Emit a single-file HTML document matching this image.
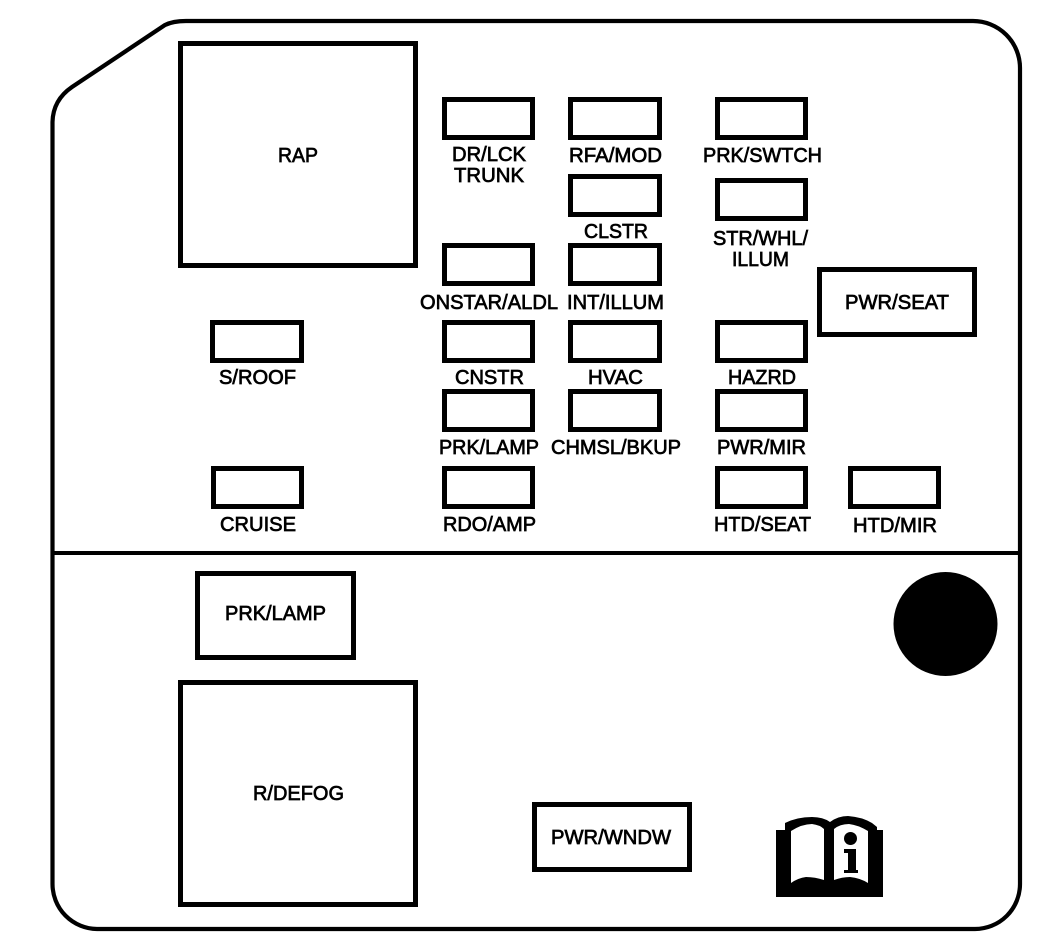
<!DOCTYPE html>
<html>
<head>
<meta charset="utf-8">
<style>
html,body{margin:0;padding:0;background:#fff}
svg{display:block}
text{font-family:"Liberation Sans",Arial,sans-serif;font-size:20px;fill:#000;stroke:#000;stroke-width:.7px}
.b{fill:none;stroke:#000;stroke-width:5;shape-rendering:crispEdges}
</style>
</head>
<body>
<svg width="1056" height="946" viewBox="0 0 1056 946" xmlns="http://www.w3.org/2000/svg">
<rect width="1056" height="946" fill="#fff"/>
<path d="M52.500 122 Q53 100 72 87 L165 25 Q173 21 186 21 L973 21 A47 47 0 0 1 1020 68 L1020 884 A45 45 0 0 1 975 929 L97 929 A45 45 0 0 1 52.500 884 Z" fill="none" stroke="#000" stroke-width="4.200"/>
<rect x="52" y="551" width="968" height="4" fill="#000"/>

<rect class="b" x="180.500" y="43.500" width="235" height="222"/>
<rect class="b" x="444.500" y="99.500" width="88" height="38"/>
<rect class="b" x="570.500" y="99.500" width="89" height="38"/>
<rect class="b" x="717.500" y="99.500" width="88" height="38"/>
<rect class="b" x="570.500" y="176.500" width="89" height="38"/>
<rect class="b" x="717.500" y="180.500" width="88" height="38"/>
<rect class="b" x="444.500" y="245.500" width="88" height="38"/>
<rect class="b" x="570.500" y="245.500" width="89" height="38"/>
<rect class="b" x="819.500" y="269.500" width="155" height="65"/>
<rect class="b" x="212.500" y="322.500" width="89" height="38"/>
<rect class="b" x="444.500" y="322.500" width="88" height="38"/>
<rect class="b" x="570.500" y="322.500" width="89" height="38"/>
<rect class="b" x="717.500" y="322.500" width="88" height="38"/>
<rect class="b" x="444.500" y="391.500" width="88" height="38"/>
<rect class="b" x="570.500" y="391.500" width="89" height="38"/>
<rect class="b" x="717.500" y="391.500" width="88" height="38"/>
<rect class="b" x="213.500" y="468.500" width="88" height="38"/>
<rect class="b" x="444.500" y="468.500" width="88" height="38"/>
<rect class="b" x="717.500" y="468.500" width="88" height="38"/>
<rect class="b" x="850.500" y="468.500" width="88" height="38"/>
<rect class="b" x="197.500" y="573.500" width="156" height="84"/>
<rect class="b" x="180.500" y="682.500" width="235" height="222"/>
<rect class="b" x="534.500" y="804.500" width="155" height="65"/>

<circle cx="945.500" cy="624" r="52" fill="#000"/>

<path d="M776 830 L785 830 L785 823 Q797 817 812 817 Q823 817 830 822 Q838 816 848 816 Q862 817 872 823 L877 827 L877 830 L883 830 L883 897 L776 897 Z" fill="#000"/>
<path d="M791 831 Q802 824 812 824 Q820 825 824 829 L824 880 Q815 877 806 877 Q798 878 791 883 Z" fill="#fff"/>
<path d="M834 829 Q840 824 849 824 Q858 825 868 831 L868 883 Q860 878 850 877 Q842 877 834 880 Z" fill="#fff"/>
<circle cx="850.500" cy="838.500" r="6.500" fill="#000"/>
<path d="M844 849 H856 V870 H858 V873 H844 V870 H848 V853 H844 Z" fill="#000"/>

<text x="278" y="162" textLength="40" lengthAdjust="spacingAndGlyphs">RAP</text>
<text x="452" y="161" textLength="74" lengthAdjust="spacingAndGlyphs">DR/LCK</text>
<text x="454" y="182" textLength="70" lengthAdjust="spacingAndGlyphs">TRUNK</text>
<text x="569" y="162" textLength="93" lengthAdjust="spacingAndGlyphs">RFA/MOD</text>
<text x="703" y="162" textLength="119" lengthAdjust="spacingAndGlyphs">PRK/SWTCH</text>
<text x="584" y="238" textLength="64" lengthAdjust="spacingAndGlyphs">CLSTR</text>
<text x="713" y="245" textLength="95" lengthAdjust="spacingAndGlyphs">STR/WHL/</text>
<text x="732" y="266" textLength="57" lengthAdjust="spacingAndGlyphs">ILLUM</text>
<text x="420" y="309" textLength="138" lengthAdjust="spacingAndGlyphs">ONSTAR/ALDL</text>
<text x="567" y="309" textLength="97" lengthAdjust="spacingAndGlyphs">INT/ILLUM</text>
<text x="845" y="309" textLength="104" lengthAdjust="spacingAndGlyphs">PWR/SEAT</text>
<text x="219" y="384" textLength="77" lengthAdjust="spacingAndGlyphs">S/ROOF</text>
<text x="455" y="384" textLength="69" lengthAdjust="spacingAndGlyphs">CNSTR</text>
<text x="588" y="384" textLength="55" lengthAdjust="spacingAndGlyphs">HVAC</text>
<text x="728" y="384" textLength="68" lengthAdjust="spacingAndGlyphs">HAZRD</text>
<text x="439" y="454" textLength="100" lengthAdjust="spacingAndGlyphs">PRK/LAMP</text>
<text x="551" y="454" textLength="130" lengthAdjust="spacingAndGlyphs">CHMSL/BKUP</text>
<text x="717" y="454" textLength="89" lengthAdjust="spacingAndGlyphs">PWR/MIR</text>
<text x="220" y="531" textLength="76" lengthAdjust="spacingAndGlyphs">CRUISE</text>
<text x="443" y="531" textLength="93" lengthAdjust="spacingAndGlyphs">RDO/AMP</text>
<text x="714" y="531" textLength="97" lengthAdjust="spacingAndGlyphs">HTD/SEAT</text>
<text x="853" y="532" textLength="84" lengthAdjust="spacingAndGlyphs">HTD/MIR</text>
<text x="225" y="620" textLength="101" lengthAdjust="spacingAndGlyphs">PRK/LAMP</text>
<text x="253" y="800" textLength="91" lengthAdjust="spacingAndGlyphs">R/DEFOG</text>
<text x="551" y="844" textLength="120" lengthAdjust="spacingAndGlyphs">PWR/WNDW</text>
</svg>
</body>
</html>
